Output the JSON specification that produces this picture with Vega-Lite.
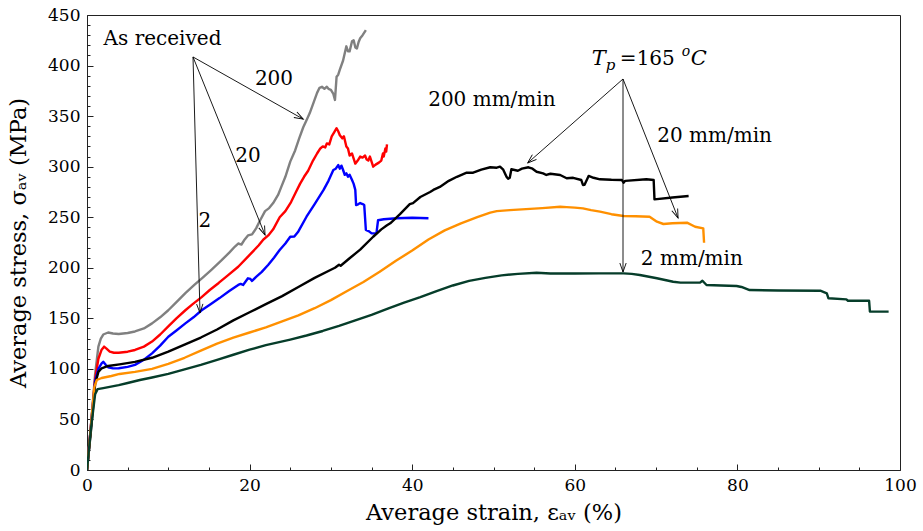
{
  "$schema": "https://vega.github.io/schema/vega-lite/v6.json",
  "width": 813,
  "height": 455,
  "autosize": {"type": "none"},
  "padding": {"left": 87, "top": 15, "right": 23, "bottom": 61},
  "background": "white",
  "config": {
    "view": {"stroke": "#222", "strokeWidth": 1},
    "mark": {"font": "DejaVu Serif"},
    "text": {"font": "DejaVu Serif"},
    "axis": {"grid": false, "domainColor": "#222", "tickColor": "#222", "labelColor": "#000", "titleColor": "#000", "titleFontWeight": "normal"}
  },
  "datasets": {
    "curves": [
      {"s":"AR200","x":0,"y":0},{"s":"AR200","x":0.5,"y":45},{"s":"AR200","x":1.0,"y":95},{"s":"AR200","x":1.4,"y":122},{"s":"AR200","x":1.7,"y":130},{"s":"AR200","x":2.0,"y":134},{"s":"AR200","x":2.6,"y":136},{"s":"AR200","x":3.2,"y":135},{"s":"AR200","x":3.9,"y":134.5},{"s":"AR200","x":5.0,"y":135.5},{"s":"AR200","x":5.9,"y":137},{"s":"AR200","x":7.0,"y":140},{"s":"AR200","x":8.0,"y":145},{"s":"AR200","x":9.0,"y":151},{"s":"AR200","x":10.0,"y":158},{"s":"AR200","x":11.0,"y":166},{"s":"AR200","x":12.1,"y":175},{"s":"AR200","x":13.2,"y":183},{"s":"AR200","x":14.2,"y":190},{"s":"AR200","x":15.3,"y":198},{"s":"AR200","x":16.5,"y":207},{"s":"AR200","x":17.5,"y":215},{"s":"AR200","x":18.2,"y":221},{"s":"AR200","x":18.6,"y":224},{"s":"AR200","x":19.0,"y":223},{"s":"AR200","x":19.4,"y":228},{"s":"AR200","x":19.8,"y":232},{"s":"AR200","x":20.3,"y":233},{"s":"AR200","x":20.8,"y":239},{"s":"AR200","x":21.3,"y":247},{"s":"AR200","x":21.9,"y":256},{"s":"AR200","x":22.4,"y":259},{"s":"AR200","x":22.9,"y":264},{"s":"AR200","x":23.5,"y":272},{"s":"AR200","x":23.9,"y":280},{"s":"AR200","x":24.4,"y":290},{"s":"AR200","x":25.0,"y":305},{"s":"AR200","x":25.6,"y":316},{"s":"AR200","x":26.1,"y":328},{"s":"AR200","x":26.6,"y":339},{"s":"AR200","x":27.0,"y":346},{"s":"AR200","x":27.4,"y":353},{"s":"AR200","x":27.9,"y":364},{"s":"AR200","x":28.3,"y":373},{"s":"AR200","x":28.6,"y":378},{"s":"AR200","x":28.9,"y":379},{"s":"AR200","x":29.2,"y":377},{"s":"AR200","x":29.5,"y":379},{"s":"AR200","x":29.7,"y":377},{"s":"AR200","x":30.0,"y":376},{"s":"AR200","x":30.3,"y":372},{"s":"AR200","x":30.5,"y":366},{"s":"AR200","x":30.7,"y":389},{"s":"AR200","x":30.9,"y":391},{"s":"AR200","x":31.1,"y":396},{"s":"AR200","x":31.5,"y":405},{"s":"AR200","x":31.9,"y":419},{"s":"AR200","x":32.1,"y":414},{"s":"AR200","x":32.3,"y":414},{"s":"AR200","x":32.6,"y":424},{"s":"AR200","x":32.8,"y":425},{"s":"AR200","x":33.0,"y":418},{"s":"AR200","x":33.2,"y":417},{"s":"AR200","x":33.4,"y":423},{"s":"AR200","x":33.6,"y":427},{"s":"AR200","x":33.9,"y":430},{"s":"AR200","x":34.3,"y":435},
      {"s":"AR20","x":0,"y":0},{"s":"AR20","x":0.5,"y":45},{"s":"AR20","x":1.0,"y":90},{"s":"AR20","x":1.4,"y":110},{"s":"AR20","x":1.8,"y":119},{"s":"AR20","x":2.1,"y":122},{"s":"AR20","x":2.4,"y":120},{"s":"AR20","x":2.8,"y":117},{"s":"AR20","x":3.3,"y":116},{"s":"AR20","x":3.9,"y":116},{"s":"AR20","x":5.0,"y":117},{"s":"AR20","x":5.9,"y":118.7},{"s":"AR20","x":7.0,"y":122},{"s":"AR20","x":8.0,"y":127},{"s":"AR20","x":9.0,"y":134},{"s":"AR20","x":10.0,"y":142},{"s":"AR20","x":11.0,"y":150},{"s":"AR20","x":12.1,"y":158},{"s":"AR20","x":13.0,"y":164},{"s":"AR20","x":14.1,"y":171},{"s":"AR20","x":15.1,"y":178},{"s":"AR20","x":16.2,"y":185},{"s":"AR20","x":17.4,"y":193},{"s":"AR20","x":18.6,"y":201},{"s":"AR20","x":19.8,"y":211},{"s":"AR20","x":21.1,"y":222},{"s":"AR20","x":21.7,"y":228},{"s":"AR20","x":22.3,"y":232},{"s":"AR20","x":22.9,"y":238},{"s":"AR20","x":23.7,"y":250},{"s":"AR20","x":24.4,"y":256},{"s":"AR20","x":25.1,"y":265},{"s":"AR20","x":25.7,"y":275},{"s":"AR20","x":26.2,"y":283},{"s":"AR20","x":26.7,"y":290},{"s":"AR20","x":27.2,"y":296},{"s":"AR20","x":27.8,"y":306},{"s":"AR20","x":28.3,"y":313},{"s":"AR20","x":28.7,"y":318},{"s":"AR20","x":29.0,"y":320},{"s":"AR20","x":29.3,"y":319},{"s":"AR20","x":29.5,"y":323},{"s":"AR20","x":29.8,"y":322},{"s":"AR20","x":30.1,"y":330},{"s":"AR20","x":30.4,"y":334},{"s":"AR20","x":30.7,"y":338},{"s":"AR20","x":30.9,"y":335},{"s":"AR20","x":31.1,"y":331},{"s":"AR20","x":31.4,"y":328},{"s":"AR20","x":31.6,"y":330},{"s":"AR20","x":31.9,"y":320},{"s":"AR20","x":32.1,"y":318},{"s":"AR20","x":32.3,"y":311},{"s":"AR20","x":32.6,"y":313},{"s":"AR20","x":33.0,"y":303},{"s":"AR20","x":33.3,"y":306},{"s":"AR20","x":33.6,"y":310},{"s":"AR20","x":33.9,"y":309},{"s":"AR20","x":34.2,"y":311},{"s":"AR20","x":34.4,"y":307},{"s":"AR20","x":34.6,"y":306},{"s":"AR20","x":34.8,"y":310},{"s":"AR20","x":35.2,"y":300},{"s":"AR20","x":35.5,"y":302},{"s":"AR20","x":35.9,"y":304},{"s":"AR20","x":36.2,"y":306},{"s":"AR20","x":36.4,"y":313},{"s":"AR20","x":36.5,"y":310},{"s":"AR20","x":36.7,"y":318},{"s":"AR20","x":36.8,"y":315},{"s":"AR20","x":36.9,"y":322},
      {"s":"AR2","x":0,"y":0},{"s":"AR2","x":0.5,"y":45},{"s":"AR2","x":1.0,"y":88},{"s":"AR2","x":1.4,"y":100},{"s":"AR2","x":1.8,"y":105.5},{"s":"AR2","x":2.0,"y":107},{"s":"AR2","x":2.3,"y":104},{"s":"AR2","x":2.6,"y":101.6},{"s":"AR2","x":3.2,"y":100.5},{"s":"AR2","x":3.9,"y":100.6},{"s":"AR2","x":5.0,"y":102},{"s":"AR2","x":5.9,"y":104},{"s":"AR2","x":7.0,"y":109},{"s":"AR2","x":8.0,"y":115.4},{"s":"AR2","x":9.0,"y":123},{"s":"AR2","x":10.0,"y":131.8},{"s":"AR2","x":11.0,"y":138},{"s":"AR2","x":12.1,"y":145},{"s":"AR2","x":13.1,"y":151},{"s":"AR2","x":14.1,"y":158},{"s":"AR2","x":15.2,"y":164},{"s":"AR2","x":16.3,"y":170},{"s":"AR2","x":17.5,"y":177},{"s":"AR2","x":18.6,"y":183},{"s":"AR2","x":18.9,"y":184},{"s":"AR2","x":19.2,"y":183},{"s":"AR2","x":19.8,"y":189.6},{"s":"AR2","x":20.1,"y":189},{"s":"AR2","x":20.3,"y":187},{"s":"AR2","x":20.8,"y":191},{"s":"AR2","x":21.5,"y":196},{"s":"AR2","x":22.3,"y":203},{"s":"AR2","x":23.0,"y":210},{"s":"AR2","x":23.7,"y":217.6},{"s":"AR2","x":24.4,"y":224},{"s":"AR2","x":25.0,"y":230.7},{"s":"AR2","x":25.5,"y":231},{"s":"AR2","x":26.0,"y":236},{"s":"AR2","x":27.0,"y":250.5},{"s":"AR2","x":28.0,"y":263},{"s":"AR2","x":29.1,"y":277},{"s":"AR2","x":29.7,"y":286},{"s":"AR2","x":30.3,"y":296.7},{"s":"AR2","x":30.6,"y":298},{"s":"AR2","x":30.9,"y":301.6},{"s":"AR2","x":31.1,"y":298},{"s":"AR2","x":31.3,"y":301},{"s":"AR2","x":31.5,"y":296.7},{"s":"AR2","x":31.7,"y":292},{"s":"AR2","x":31.9,"y":293.4},{"s":"AR2","x":32.1,"y":290},{"s":"AR2","x":32.3,"y":292},{"s":"AR2","x":32.6,"y":286.8},{"s":"AR2","x":32.8,"y":283},{"s":"AR2","x":33.0,"y":277},{"s":"AR2","x":33.1,"y":262},{"s":"AR2","x":33.4,"y":263},{"s":"AR2","x":33.6,"y":264},{"s":"AR2","x":33.9,"y":263},{"s":"AR2","x":34.1,"y":262},{"s":"AR2","x":34.3,"y":237.4},{"s":"AR2","x":34.7,"y":236},{"s":"AR2","x":35.0,"y":234},{"s":"AR2","x":35.6,"y":234},{"s":"AR2","x":35.8,"y":247},{"s":"AR2","x":36.5,"y":248},{"s":"AR2","x":38.1,"y":249},{"s":"AR2","x":40.0,"y":249.5},{"s":"AR2","x":42.0,"y":249},
      {"s":"TP200","x":0,"y":0},{"s":"TP200","x":0.5,"y":40},{"s":"TP200","x":1.0,"y":85},{"s":"TP200","x":1.4,"y":97},{"s":"TP200","x":1.8,"y":100.6},{"s":"TP200","x":2.6,"y":102.9},{"s":"TP200","x":4.0,"y":104.5},{"s":"TP200","x":5.9,"y":107},{"s":"TP200","x":8.0,"y":111},{"s":"TP200","x":10.0,"y":117},{"s":"TP200","x":12.0,"y":124},{"s":"TP200","x":14.0,"y":131},{"s":"TP200","x":16.0,"y":139},{"s":"TP200","x":18.0,"y":148},{"s":"TP200","x":20.0,"y":156},{"s":"TP200","x":22.0,"y":164},{"s":"TP200","x":24.0,"y":172},{"s":"TP200","x":26.0,"y":181},{"s":"TP200","x":28.0,"y":190},{"s":"TP200","x":30.0,"y":198},{"s":"TP200","x":30.5,"y":200},{"s":"TP200","x":31.0,"y":203},{"s":"TP200","x":31.2,"y":202},{"s":"TP200","x":32.3,"y":209.4},{"s":"TP200","x":33.6,"y":218},{"s":"TP200","x":35.2,"y":230.7},{"s":"TP200","x":36.2,"y":238},{"s":"TP200","x":36.9,"y":242},{"s":"TP200","x":37.3,"y":244},{"s":"TP200","x":38.5,"y":253},{"s":"TP200","x":39.7,"y":263},{"s":"TP200","x":40.1,"y":264},{"s":"TP200","x":41.0,"y":270},{"s":"TP200","x":42.2,"y":275},{"s":"TP200","x":42.6,"y":277},{"s":"TP200","x":43.4,"y":280},{"s":"TP200","x":44.5,"y":286},{"s":"TP200","x":45.5,"y":290},{"s":"TP200","x":46.7,"y":294},{"s":"TP200","x":47.5,"y":294},{"s":"TP200","x":48.5,"y":297},{"s":"TP200","x":49.6,"y":299.4},{"s":"TP200","x":50.4,"y":299},{"s":"TP200","x":50.8,"y":300},{"s":"TP200","x":51.2,"y":297},{"s":"TP200","x":51.6,"y":290},{"s":"TP200","x":51.8,"y":288},{"s":"TP200","x":52.0,"y":289},{"s":"TP200","x":52.2,"y":297.4},{"s":"TP200","x":53.0,"y":296},{"s":"TP200","x":53.5,"y":298},{"s":"TP200","x":54.3,"y":299.4},{"s":"TP200","x":54.8,"y":298},{"s":"TP200","x":55.3,"y":295},{"s":"TP200","x":56.1,"y":293.4},{"s":"TP200","x":56.5,"y":291.8},{"s":"TP200","x":57.0,"y":293},{"s":"TP200","x":58.2,"y":291.8},{"s":"TP200","x":59.0,"y":288.5},{"s":"TP200","x":59.8,"y":289},{"s":"TP200","x":60.8,"y":286.8},{"s":"TP200","x":61.0,"y":281.9},{"s":"TP200","x":61.2,"y":282},{"s":"TP200","x":61.7,"y":290.8},{"s":"TP200","x":62.3,"y":289},{"s":"TP200","x":63.1,"y":287.5},{"s":"TP200","x":64.5,"y":287},{"s":"TP200","x":65.8,"y":286.8},{"s":"TP200","x":66.0,"y":284.1},{"s":"TP200","x":66.2,"y":286},{"s":"TP200","x":68.8,"y":287.5},{"s":"TP200","x":69.7,"y":286.8},{"s":"TP200","x":69.8,"y":267.7},{"s":"TP200","x":72.0,"y":269.5},{"s":"TP200","x":74.0,"y":271},
      {"s":"TP20","x":0,"y":0},{"s":"TP20","x":0.5,"y":45},{"s":"TP20","x":0.9,"y":82},{"s":"TP20","x":1.2,"y":89},{"s":"TP20","x":1.8,"y":91},{"s":"TP20","x":3.0,"y":93},{"s":"TP20","x":4.0,"y":95},{"s":"TP20","x":5.9,"y":97},{"s":"TP20","x":8.0,"y":100},{"s":"TP20","x":10.0,"y":105},{"s":"TP20","x":12.0,"y":111},{"s":"TP20","x":14.0,"y":118},{"s":"TP20","x":16.0,"y":125},{"s":"TP20","x":18.0,"y":131},{"s":"TP20","x":20.0,"y":136},{"s":"TP20","x":22.0,"y":141},{"s":"TP20","x":24.0,"y":147},{"s":"TP20","x":26.0,"y":153},{"s":"TP20","x":28.0,"y":160},{"s":"TP20","x":30.0,"y":168},{"s":"TP20","x":32.0,"y":177},{"s":"TP20","x":34.0,"y":186},{"s":"TP20","x":36.0,"y":196},{"s":"TP20","x":38.0,"y":207},{"s":"TP20","x":40.0,"y":217},{"s":"TP20","x":42.0,"y":228},{"s":"TP20","x":44.0,"y":237},{"s":"TP20","x":46.0,"y":244},{"s":"TP20","x":48.0,"y":250},{"s":"TP20","x":49.6,"y":254.5},{"s":"TP20","x":50.4,"y":256},{"s":"TP20","x":52.0,"y":257},{"s":"TP20","x":54.0,"y":258},{"s":"TP20","x":56.0,"y":259},{"s":"TP20","x":58.2,"y":260.4},{"s":"TP20","x":59.0,"y":260},{"s":"TP20","x":60.0,"y":259.5},{"s":"TP20","x":61.0,"y":258.8},{"s":"TP20","x":62.0,"y":257},{"s":"TP20","x":63.1,"y":255.5},{"s":"TP20","x":64.5,"y":253},{"s":"TP20","x":66.0,"y":251.2},{"s":"TP20","x":67.5,"y":251},{"s":"TP20","x":69.2,"y":250.5},{"s":"TP20","x":70.1,"y":245.6},{"s":"TP20","x":70.9,"y":243.3},{"s":"TP20","x":72.0,"y":244},{"s":"TP20","x":73.8,"y":244.6},{"s":"TP20","x":74.8,"y":240.6},{"s":"TP20","x":75.8,"y":239},{"s":"TP20","x":75.9,"y":224.8},
      {"s":"TP2","x":0,"y":0},{"s":"TP2","x":0.5,"y":42},{"s":"TP2","x":1.0,"y":75},{"s":"TP2","x":1.3,"y":80},{"s":"TP2","x":2.0,"y":81},{"s":"TP2","x":3.9,"y":84},{"s":"TP2","x":5.0,"y":86},{"s":"TP2","x":6.5,"y":89},{"s":"TP2","x":8.0,"y":91.5},{"s":"TP2","x":10.0,"y":95},{"s":"TP2","x":12.0,"y":99.5},{"s":"TP2","x":14.0,"y":104},{"s":"TP2","x":16.0,"y":109},{"s":"TP2","x":18.0,"y":114},{"s":"TP2","x":20.0,"y":119},{"s":"TP2","x":22.0,"y":123.5},{"s":"TP2","x":25.0,"y":129},{"s":"TP2","x":27.0,"y":133},{"s":"TP2","x":29.0,"y":137.5},{"s":"TP2","x":31.0,"y":142.5},{"s":"TP2","x":33.0,"y":148},{"s":"TP2","x":35.0,"y":153.5},{"s":"TP2","x":37.0,"y":159.5},{"s":"TP2","x":39.0,"y":165.5},{"s":"TP2","x":41.0,"y":171},{"s":"TP2","x":43.0,"y":177},{"s":"TP2","x":45.0,"y":182.5},{"s":"TP2","x":47.0,"y":187},{"s":"TP2","x":49.0,"y":190},{"s":"TP2","x":51.0,"y":192.5},{"s":"TP2","x":53.0,"y":194},{"s":"TP2","x":55.3,"y":195.1},{"s":"TP2","x":57.0,"y":194.3},{"s":"TP2","x":60.0,"y":194.3},{"s":"TP2","x":63.0,"y":194.5},{"s":"TP2","x":66.0,"y":194.5},{"s":"TP2","x":67.0,"y":194},{"s":"TP2","x":68.0,"y":192.9},{"s":"TP2","x":70.1,"y":189.6},{"s":"TP2","x":72.1,"y":186.2},{"s":"TP2","x":73.0,"y":185.3},{"s":"TP2","x":75.4,"y":185.3},{"s":"TP2","x":75.7,"y":187.2},{"s":"TP2","x":76.2,"y":183},{"s":"TP2","x":78.0,"y":182.5},{"s":"TP2","x":79.9,"y":182},{"s":"TP2","x":80.5,"y":181},{"s":"TP2","x":81.5,"y":178},{"s":"TP2","x":85.0,"y":177.5},{"s":"TP2","x":90.2,"y":177.3},{"s":"TP2","x":91.0,"y":174.8},{"s":"TP2","x":91.2,"y":169.8},{"s":"TP2","x":93.4,"y":168.8},{"s":"TP2","x":93.6,"y":167.4},{"s":"TP2","x":96.2,"y":167.4},{"s":"TP2","x":96.3,"y":156.6},{"s":"TP2","x":98.6,"y":156.6}
    ],
    "arrows": [
      {"x0":13.04,"y0":408.5,"x1":26.6,"y1":347,"angle":119.4},
      {"x0":13.04,"y0":408.5,"x1":21.9,"y1":232.4,"angle":158.0},
      {"x0":13.04,"y0":408.5,"x1":13.9,"y1":155.3,"angle":178.4},
      {"x0":65.93,"y0":386.7,"x1":54.2,"y1":303.6,"angle":228.5},
      {"x0":65.93,"y0":386.7,"x1":65.93,"y1":195.8,"angle":180},
      {"x0":65.93,"y0":386.7,"x1":72.7,"y1":249.2,"angle":158.4}
    ],
    "labels": [
      {"t":"As received","x":9.29,"y":420.3},
      {"t":"200","x":23.0,"y":381},
      {"t":"20","x":19.8,"y":304.6},
      {"t":"2","x":14.5,"y":240.3},
      {"t":"200 mm/min","x":49.8,"y":360},
      {"t":"20 mm/min","x":77.2,"y":324.7},
      {"t":"2 mm/min","x":74.4,"y":202.7}
    ],
    "tp": [{"x":62.1,"y":400.5}]
  },
  "resolve": {"axis": {"x": "independent", "y": "independent"}},
  "layer": [
    {
      "data": {"name": "curves"},
      "mark": {"type": "line", "strokeWidth": 2.4, "strokeJoin": "round", "clip": true},
      "encoding": {
        "x": {"field": "x", "type": "quantitative", "scale": {"domain": [0, 100], "nice": false},
          "axis": {"orient": "bottom", "values": [0, 20, 40, 60, 80, 100], "ticks": false, "labelPadding": 7, "labelFont": "DejaVu Serif", "labelFontSize": 17, "title": "Average strain, εₐᵥ (%)", "titleFont": "DejaVu Serif", "titleFontSize": 22.5, "titlePadding": 8, "labelFlush": false}},
        "y": {"field": "y", "type": "quantitative", "scale": {"domain": [0, 450], "nice": false},
          "axis": {"orient": "left", "values": [0, 50, 100, 150, 200, 250, 300, 350, 400, 450], "ticks": false, "labelPadding": 7, "labelFont": "DejaVu Serif", "labelFontSize": 17, "title": "Average stress, σₐᵥ (MPa)", "titleFont": "DejaVu Serif", "titleFontSize": 22.5, "titlePadding": 17, "labelFlush": false}},
        "color": {"field": "s", "type": "nominal", "legend": null,
          "scale": {"domain": ["AR200", "AR20", "AR2", "TP200", "TP20", "TP2"], "range": ["#808080", "#ff0000", "#0000ff", "#000000", "#ff9000", "#063d2a"]}},
        "order": {"value": null}
      }
    },
    {
      "data": {"name": "arrows"},
      "mark": {"type": "rule", "color": "#000", "strokeWidth": 0.9},
      "encoding": {
        "x": {"field": "x0", "type": "quantitative", "axis": {"orient": "bottom", "values": [0, 20, 40, 60, 80, 100], "tickSize": -6, "labels": false, "domain": false, "title": null}},
        "y": {"field": "y0", "type": "quantitative", "axis": {"orient": "left", "values": [0, 50, 100, 150, 200, 250, 300, 350, 400, 450], "tickSize": -6, "labels": false, "domain": false, "title": null}},
        "x2": {"field": "x1"},
        "y2": {"field": "y1"}
      }
    },
    {
      "data": {"name": "arrows"},
      "mark": {"type": "point", "filled": false, "color": "#000", "strokeWidth": 0.9, "opacity": 1, "size": 324, "shape": "M -0.35 1 L 0 0 L 0.35 1"},
      "encoding": {
        "x": {"field": "x1", "type": "quantitative", "axis": {"orient": "bottom", "values": [5, 10, 15, 25, 30, 35, 45, 50, 55, 65, 70, 75, 85, 90, 95], "tickSize": -3, "labels": false, "domain": false, "title": null}},
        "y": {"field": "y1", "type": "quantitative", "axis": {"orient": "left", "values": [10, 20, 30, 40, 60, 70, 80, 90, 110, 120, 130, 140, 160, 170, 180, 190, 210, 220, 230, 240, 260, 270, 280, 290, 310, 320, 330, 340, 360, 370, 380, 390, 410, 420, 430, 440], "tickSize": -3, "labels": false, "domain": false, "title": null}},
        "angle": {"field": "angle", "type": "quantitative", "scale": null}
      }
    },
    {
      "data": {"name": "labels"},
      "mark": {"type": "text", "font": "DejaVu Serif", "fontSize": 20, "align": "center", "baseline": "alphabetic", "color": "#000"},
      "encoding": {
        "x": {"field": "x", "type": "quantitative", "axis": null},
        "y": {"field": "y", "type": "quantitative", "axis": null},
        "text": {"field": "t"}
      }
    },
    {
      "data": {"name": "tp"},
      "mark": {"type": "text", "font": "DejaVu Serif", "fontSize": 21, "fontStyle": "italic", "align": "left", "baseline": "alphabetic", "color": "#000", "text": "T"},
      "encoding": {"x": {"field": "x", "type": "quantitative", "axis": null}, "y": {"field": "y", "type": "quantitative", "axis": null}}
    },
    {
      "data": {"name": "tp"},
      "mark": {"type": "text", "font": "DejaVu Serif", "fontSize": 15, "fontStyle": "italic", "align": "left", "baseline": "alphabetic", "color": "#000", "text": "p", "dx": 14, "dy": 5},
      "encoding": {"x": {"field": "x", "type": "quantitative", "axis": null}, "y": {"field": "y", "type": "quantitative", "axis": null}}
    },
    {
      "data": {"name": "tp"},
      "mark": {"type": "text", "font": "DejaVu Serif", "fontSize": 20, "align": "left", "baseline": "alphabetic", "color": "#000", "text": "=165", "dx": 28},
      "encoding": {"x": {"field": "x", "type": "quantitative", "axis": null}, "y": {"field": "y", "type": "quantitative", "axis": null}}
    },
    {
      "data": {"name": "tp"},
      "mark": {"type": "text", "font": "DejaVu Serif", "fontSize": 14, "fontStyle": "italic", "align": "left", "baseline": "alphabetic", "color": "#000", "text": "o", "dx": 90, "dy": -9},
      "encoding": {"x": {"field": "x", "type": "quantitative", "axis": null}, "y": {"field": "y", "type": "quantitative", "axis": null}}
    },
    {
      "data": {"name": "tp"},
      "mark": {"type": "text", "font": "DejaVu Serif", "fontSize": 21, "fontStyle": "italic", "align": "left", "baseline": "alphabetic", "color": "#000", "text": "C", "dx": 99},
      "encoding": {"x": {"field": "x", "type": "quantitative", "axis": null}, "y": {"field": "y", "type": "quantitative", "axis": null}}
    }
  ]
}
